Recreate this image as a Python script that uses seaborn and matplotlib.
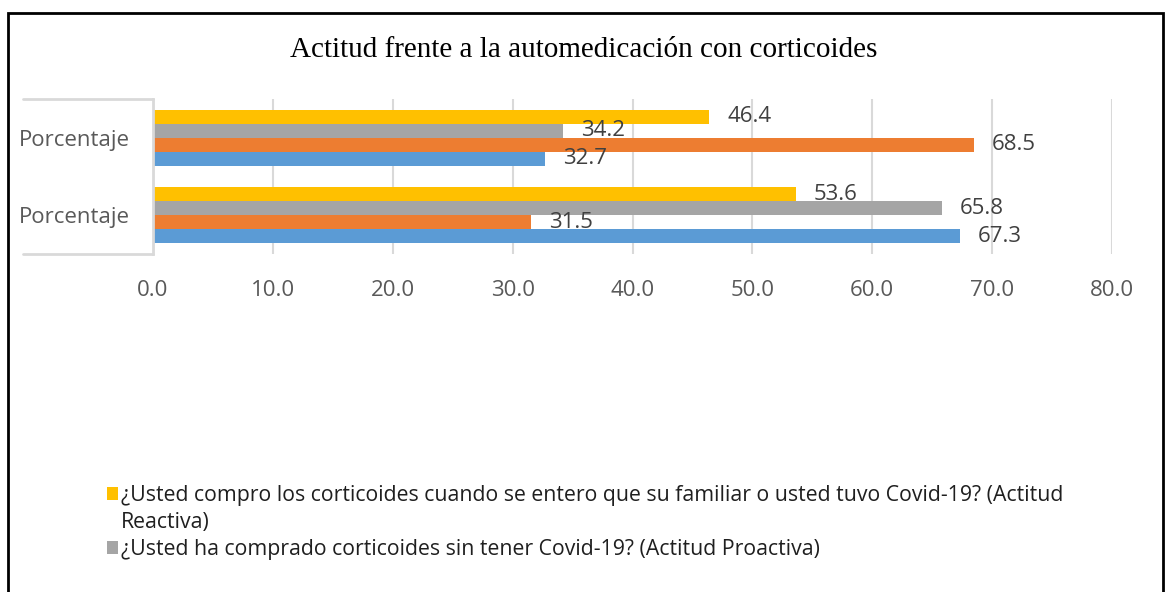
import matplotlib
matplotlib.use("Agg")
import matplotlib.pyplot as plt
from matplotlib.patches import Rectangle, Patch
from matplotlib.lines import Line2D
import seaborn as sns
import pandas as pd

# ---------------- data ----------------
group_ids = ["Grupo A", "Grupo B"]            # top group, bottom group
group_labels = ["Porcentaje", "Porcentaje"]
series_names = [
    "¿Usted compro los corticoides cuando se entero que su familiar o usted tuvo Covid-19? (Actitud Reactiva)",
    "¿Usted ha comprado corticoides sin tener Covid-19? (Actitud Proactiva)",
    "Serie 2",
    "Serie 1",
]
legend_lines = [
    "¿Usted compro los corticoides cuando se entero que su familiar o usted tuvo Covid-19? (Actitud",
    "Reactiva)",
    "¿Usted ha comprado corticoides sin tener Covid-19? (Actitud Proactiva)",
]
values_reactiva = [46.4, 53.6]
values_proactiva = [34.2, 65.8]
values_serie2 = [68.5, 31.5]
values_serie1 = [32.7, 67.3]
series_colors = ["#FFC000", "#A5A5A5", "#ED7D31", "#5B9BD5"]
x_ticks = [0, 10, 20, 30, 40, 50, 60, 70, 80]
title = "Actitud frente a la automedicación con corticoides"

all_values = [values_reactiva, values_proactiva, values_serie2, values_serie1]
rows = []
for name, vals in zip(series_names, all_values):
    for g, v in zip(group_ids, vals):
        rows.append({"grupo": g, "serie": name, "valor": v})
df = pd.DataFrame(rows)

# ---------------- figure ----------------
sns.set_theme(style="white")
plt.rcParams["font.family"] = ["Open Sans", "DejaVu Sans"]

fig = plt.figure(figsize=(11.68, 5.92), dpi=100)
ax = fig.add_axes([153 / 1168, 1 - 254 / 592, (1112 - 153) / 1168, (254 - 99) / 592])

sns.barplot(data=df, y="grupo", x="valor", hue="serie", order=group_ids,
            hue_order=series_names, palette=series_colors, orient="h",
            width=0.72, saturation=1, ax=ax, legend=False, linewidth=0)

for cont in ax.containers:
    ax.bar_label(cont, fmt="%.1f", padding=13, fontsize=16, color="#404040")

ax.set_xlim(0, 80)
ax.set_xticks(x_ticks)
ax.set_xticklabels([f"{t:.1f}" for t in x_ticks])
ax.set_yticks(range(len(group_ids)))
ax.set_yticklabels(group_labels)
ax.set_xlabel("")
ax.set_ylabel("")
ax.tick_params(axis="x", length=0, pad=19, labelsize=16, labelcolor="#595959")
ax.tick_params(axis="y", length=0, pad=17, labelsize=16, labelcolor="#595959")
ax.grid(axis="x", color="#D9D9D9", linewidth=1.5)
ax.set_axisbelow(True)
for s in ["top", "right", "bottom"]:
    ax.spines[s].set_visible(False)
ax.spines["left"].set_color("#D9D9D9")
ax.spines["left"].set_linewidth(2)

# category label box (Excel style)
left_ext = -(153 - 23) / (1112 - 153)
for yv in (0, 1):
    ax.add_line(Line2D([left_ext, 0], [yv, yv], transform=ax.transAxes,
                       color="#D9D9D9", linewidth=2, clip_on=False))

# title
fig.text(584 / 1168, 1 - 50 / 592, title, ha="center", va="center",
         fontsize=21, family="Liberation Serif", color="#000000")

# legend (only the entries visible in the original; first label wraps)
leg_handles = [
    Patch(facecolor=series_colors[0], edgecolor="none"),
    Patch(facecolor="none", edgecolor="none"),
    Patch(facecolor=series_colors[1], edgecolor="none"),
]
leg = fig.legend(leg_handles, legend_lines, loc="upper left",
                 bbox_to_anchor=(107 / 1168, 1 - 485 / 592), frameon=False,
                 fontsize=15.3, handlelength=0.52, handleheight=0.56,
                 handletextpad=0.14, borderpad=0, borderaxespad=0,
                 labelspacing=0.28)
for t in leg.get_texts():
    t.set_color("#1F1F1F")

# outer border
fig.add_artist(Rectangle((8 / 1168, -0.05), (1163 - 8) / 1168, 1.05 - 13 / 592,
                         transform=fig.transFigure, fill=False,
                         edgecolor="black", linewidth=2))

fig.savefig("out.png", dpi=100)
